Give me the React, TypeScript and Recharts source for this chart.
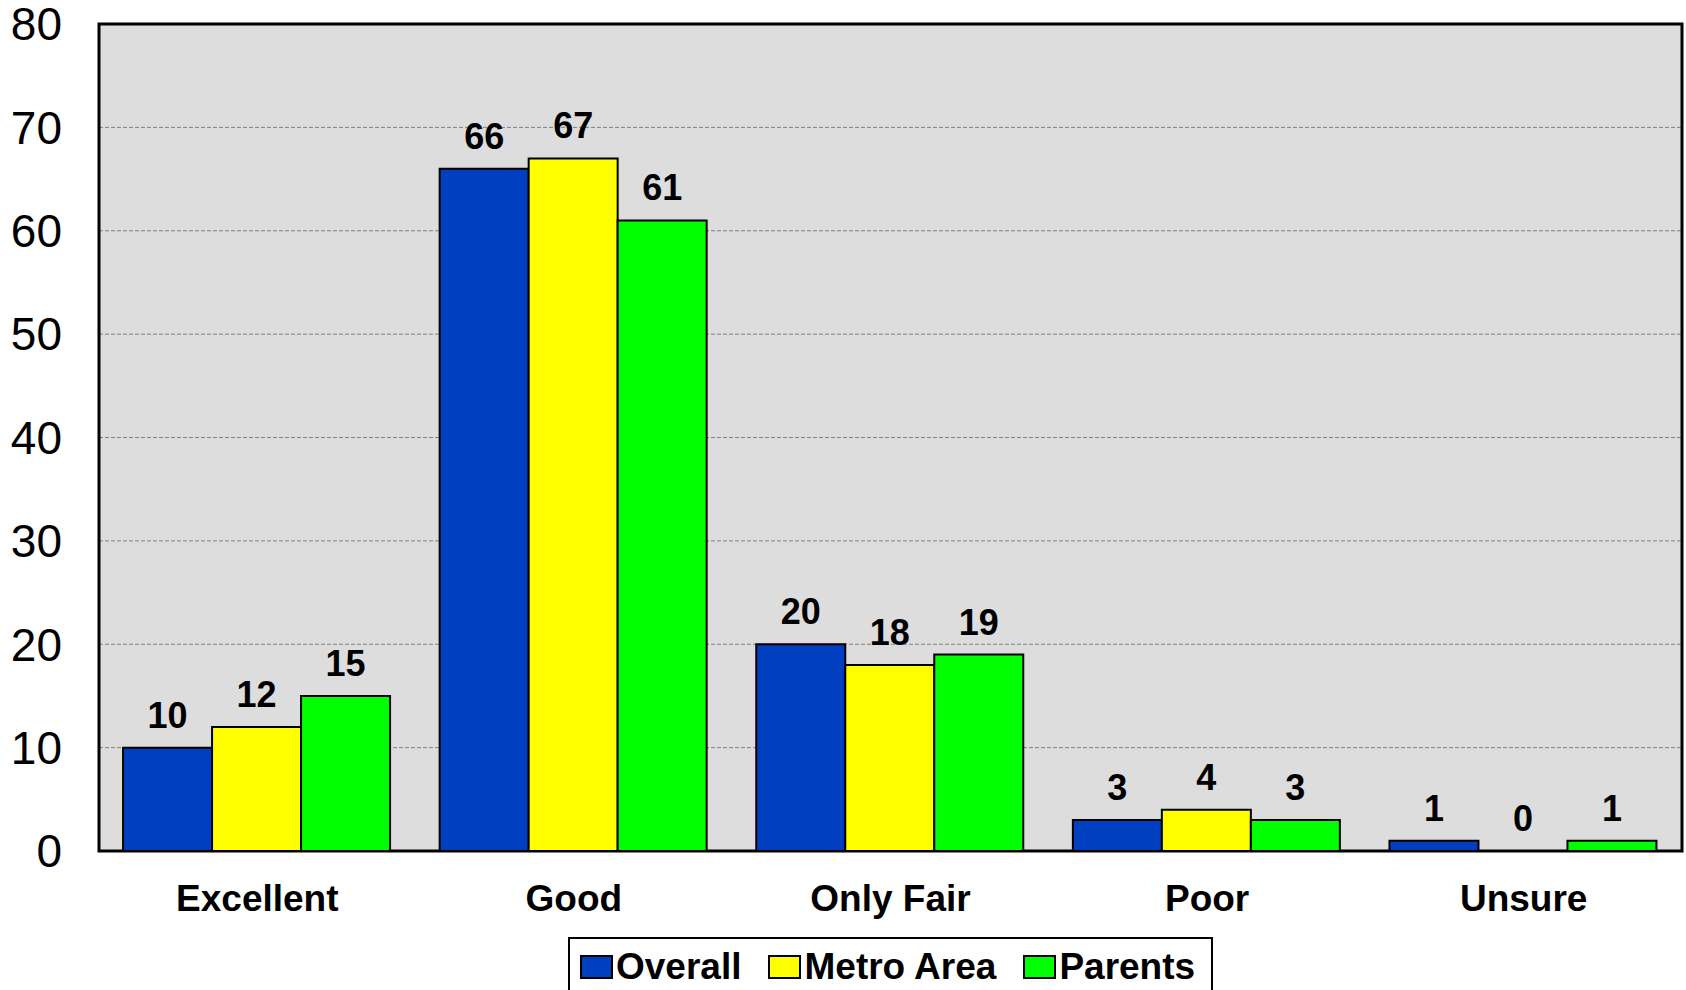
import React from "react";
import {
  BarChart,
  Bar,
  XAxis,
  YAxis,
  CartesianGrid,
  LabelList,
  ReferenceArea,
} from "recharts";

// ratings per group (percent)
const categories = ["Excellent", "Good", "Only Fair", "Poor", "Unsure"];
const overall = [10, 66, 20, 3, 1];
const metroArea = [12, 67, 18, 4, 0];
const parents = [15, 61, 19, 3, 1];
const yTicks = [0, 10, 20, 30, 40, 50, 60, 70, 80];

const seriesInfo = [
  { key: "overall", name: "Overall", color: "#0040C0" },
  { key: "metro", name: "Metro Area", color: "#FFFF00" },
  { key: "parents", name: "Parents", color: "#00FF00" },
];

const chartData = categories.map((c, i) => ({
  category: c,
  overall: overall[i],
  metro: metroArea[i],
  parents: parents[i],
}));

const FONT = '"Liberation Sans", Arial, sans-serif';

function LegendBox() {
  return (
    <div
      style={{
        position: "absolute",
        left: 568,
        top: 937,
        width: 645,
        height: 70,
        border: "2px solid #000",
        background: "#fff",
        display: "flex",
        alignItems: "flex-start",
        paddingLeft: 10,
        paddingTop: 13,
        boxSizing: "border-box",
        fontFamily: FONT,
        fontWeight: "bold",
        fontSize: 37,
        lineHeight: "30px",
        color: "#000",
      }}
    >
      {seriesInfo.map((s) => (
        <div key={s.key} style={{ display: "flex", alignItems: "center", marginRight: 27 }}>
          <span
            style={{
              display: "inline-block",
              width: 33,
              height: 24,
              background: s.color,
              border: "2px solid #000",
              boxSizing: "border-box",
              marginRight: 3,
            }}
          />
          <span style={{ whiteSpace: "nowrap" }}>{s.name}</span>
        </div>
      ))}
    </div>
  );
}

export default function App() {
  return (
    <div
      style={{
        position: "absolute",
        left: 0,
        top: 0,
        width: 1686,
        height: 990,
        overflow: "hidden",
        background: "#fff",
        fontFamily: FONT,
      }}
    >
      <BarChart
        width={1686}
        height={990}
        data={chartData}
        margin={{ top: 24, right: 4, left: 0, bottom: 59 }}
        barCategoryGap="7.6%"
        barGap={0}
      >
        <CartesianGrid
          vertical={false}
          fill="#DDDDDD"
          stroke="#808080"
          strokeDasharray="4 2"
        />
        <XAxis
          dataKey="category"
          height={80}
          axisLine={false}
          tickLine={false}
          tickSize={0}
          tickMargin={34}
          tick={{ fontSize: 37, fontWeight: "bold", fill: "#000", fontFamily: FONT }}
        />
        <YAxis
          width={99}
          domain={[0, 80]}
          ticks={yTicks}
          interval={0}
          axisLine={false}
          tickLine={false}
          tickSize={0}
          tickMargin={37}
          tick={{ fontSize: 46, fill: "#000", fontFamily: FONT }}
        />
        {seriesInfo.map((s) => (
          <Bar
            key={s.key}
            dataKey={s.key}
            name={s.name}
            fill={s.color}
            stroke="#000"
            strokeWidth={2}
            minPointSize={0.1}
            isAnimationActive={false}
          >
            <LabelList
              dataKey={s.key}
              position="top"
              offset={20}
              style={{ fontSize: 36, fontWeight: "bold", fill: "#000", fontFamily: FONT }}
            />
          </Bar>
        ))}
        <ReferenceArea
          y1={0}
          y2={80}
          fill="none"
          stroke="#000"
          strokeWidth={3}
          ifOverflow="visible"
        />
      </BarChart>
      <LegendBox />
    </div>
  );
}
